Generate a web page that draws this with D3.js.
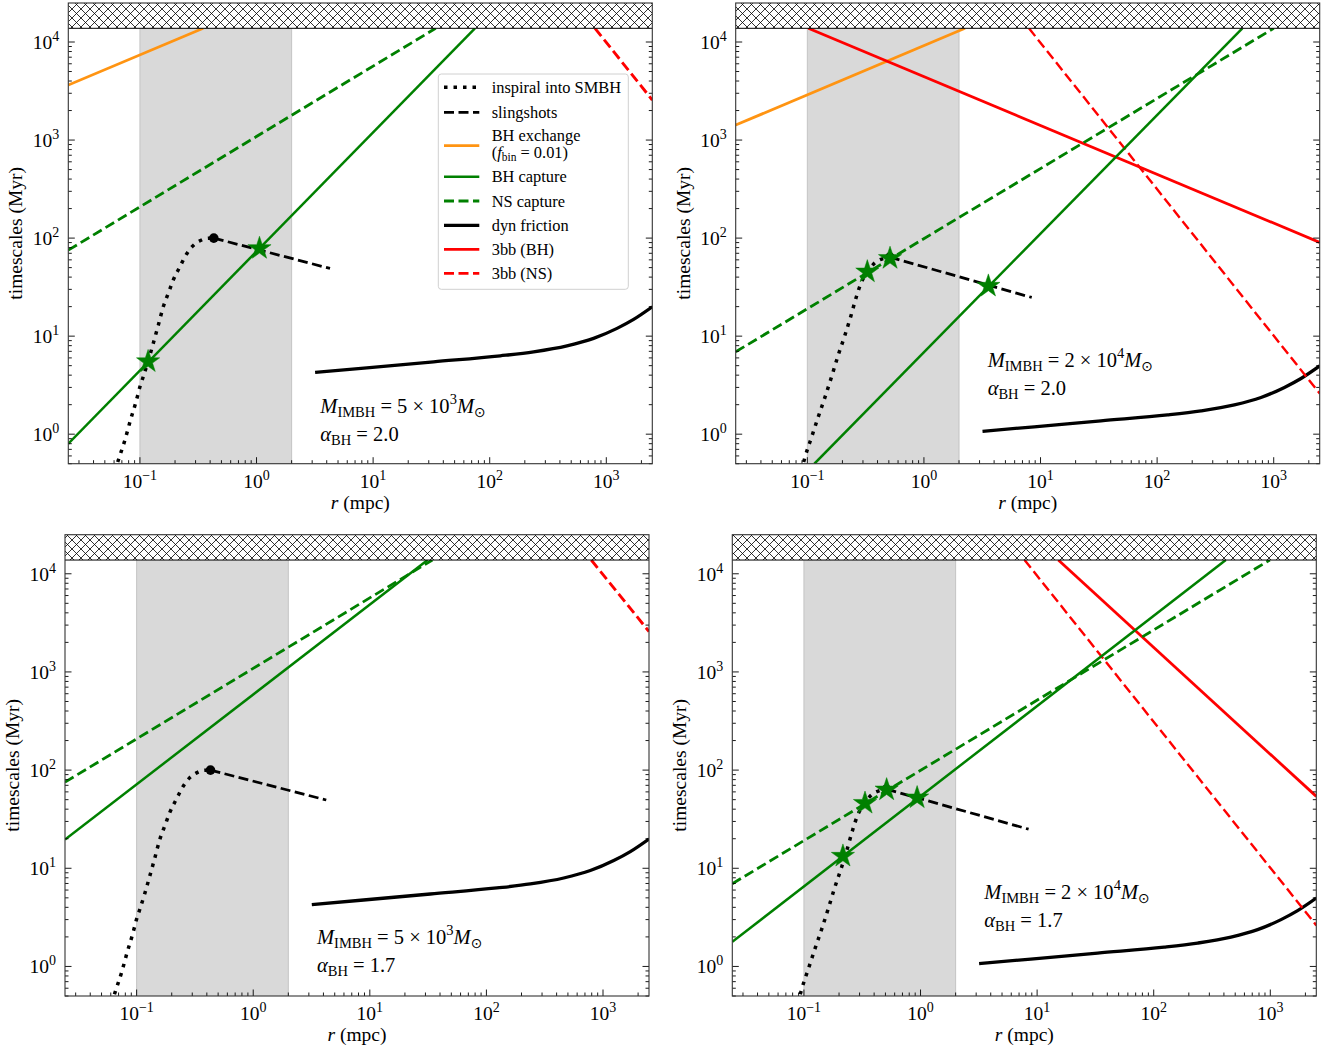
<!DOCTYPE html>
<html><head><meta charset="utf-8">
<script src="https://cdn.jsdelivr.net/npm/d3@7"></script>
<style>
body{margin:0;background:#fff}
svg{display:block}
text{font-family:"Liberation Serif","Times New Roman",serif;fill:#000}
</style>
</head><body>
<svg id="fig" width="1328" height="1050"></svg>
<script>
// ---------- shared axis data ----------
const xDomain = [0.0243, 2480];          // r (mpc)
const yDomain = [0.5, 25000];            // timescales (Myr)
const hubbleTime = 13800;                // hatched region starts here
const shadedRange = [0.1, 2];            // grey band in r
const xTickValues = [0.1, 1, 10, 100, 1000];
const xTickExps = ["\u22121", "0", "1", "2", "3"];
const yTickValues = [1, 10, 100, 1000, 10000];
const yTickExps = ["0", "1", "2", "3", "4"];

// ---------- panel 1 : M = 5e3, alpha = 2.0 ----------
const p1Inspiral = [[0.0645,0.52],[0.0664,0.578],[0.0743,0.869],[0.0832,1.41],[0.0925,2.14],[0.1,3.04],[0.1067,3.85],[0.1178,5.6],[0.13,8.43],[0.1436,12.9],[0.1585,19.9],[0.175,27.3],[0.193,37.3],[0.22,51],[0.248,67.1],[0.283,82.8],[0.327,93.8],[0.374,99.3],[0.43,100]];
const p1Peak = [[0.43, 100]];
const p1Slingshot = [[0.43,100],[4.27,49]];
const p1BHExchange = [[0.0243,3640],[0.349,13800]];
const p1BHCapture = [[0.0243,0.80],[74.7,13800]];
const p1NSCapture = [[0.0243,75.4],[34.4,13800]];
const p1DynFriction = [[3.18,4.26],[8.83,4.75],[33,5.47],[123,6.30],[238,6.92],[460,7.96],[778,9.48],[1236,12.0],[1715,14.8],[2480,19.9]];
const p13bbNS = [[800,13800],[2480,2560]];
const p1Stars = [[0.1175,5.5],[1.06,78.5]];

// ---------- panel 2 : M = 2e4, alpha = 2.0 ----------
const p2Inspiral = [[0.093,0.52],[0.0953,0.578],[0.109,0.94],[0.124,1.5],[0.142,2.4],[0.162,3.91],[0.184,6.4],[0.21,10.2],[0.235,15.7],[0.261,24.3],[0.288,34.5],[0.327,45],[0.38,56],[0.448,62],[0.51,64]];
const p2Peak = [[0.51, 64]];
const p2Slingshot = [[0.51,64],[8.41,24.8]];
const p2BHExchange = [[0.0243,1422],[2.25,13800]];
const p2BHCapture = [[0.115,0.5],[538,13800]];
const p2NSCapture = [[0.0243,6.92],[1000,13800]];
const p2DynFriction = [[3.18,1.07],[8.83,1.19],[33,1.37],[123,1.57],[238,1.73],[460,1.99],[778,2.37],[1236,3.0],[1715,3.7],[2480,4.97]];
const p23bbBH = [[0.102,13800],[2480,90.4]];
const p23bbNS = [[7.96,13800],[2480,2.6]];
const p2Stars = [[0.327,45.3],[0.512,62.1],[3.57,32.4]];

// ---------- panel 3 : M = 5e3, alpha = 1.7 ----------
const p3Inspiral = p1Inspiral;
const p3Peak = [[0.43, 100]];
const p3Slingshot = [[0.43,100],[4.23,49.6]];
const p3BHCapture = [[0.0243,19.6],[31.3,13800]];
const p3NSCapture = [[0.0243,75.4],[34.4,13800]];
const p3DynFriction = p1DynFriction;
const p33bbNS = [[793,13800],[2480,2580]];
const p3Stars = [];

// ---------- panel 4 : M = 2e4, alpha = 1.7 ----------
const p4Inspiral = p2Inspiral;
const p4Peak = [[0.51, 64]];
const p4Slingshot = [[0.51,64],[8.45,25]];
const p4BHCapture = [[0.0243,1.78],[415,13800]];
const p4NSCapture = [[0.0243,6.96],[990,13800]];
const p4DynFriction = p2DynFriction;
const p43bbBH = [[15.2,13800],[2480,54]];
const p43bbNS = [[7.8,13800],[2480,2.62]];
const p4Stars = [[0.216,13.3],[0.334,46],[0.512,63],[0.935,52.3]];

// ---------- annotation texts ----------
const massMantissa = ["5","2","5","2"];
const massExponent = ["3","4","3","4"];
const alphaValues = ["2.0","2.0","1.7","1.7"];

// ---------- legend ----------
const legendKeys = ["inspiral","slingshot","bhExchange","bhCapture","nsCapture","dynFriction","bb3BH","bb3NS"];
const legendLabels = ["inspiral into SMBH","slingshots","BH exchange","BH capture","NS capture","dyn friction","3bb (BH)","3bb (NS)"];

// ---------- styles ----------
const styles = {
  inspiral:   {stroke:"#000", w:3.5, dash:"3.5,6"},
  slingshot:  {stroke:"#000", w:2.8, dash:"10,4.5"},
  bhExchange: {stroke:"#ff9412", w:2.8, dash:null},
  bhCapture:  {stroke:"#008000", w:2.5, dash:null},
  nsCapture:  {stroke:"#008000", w:2.8, dash:"10,4.5"},
  dynFriction:{stroke:"#000", w:3.3, dash:null},
  bb3BH:      {stroke:"#ff0000", w:2.8, dash:null},
  bb3NS:      {stroke:"#ff0000", w:2.8, dash:"10,4.5"}
};

const panels = [
  {box:{l:68.3,r:652.3,t:3,b:463.7}, textDy:[-51,-23], legend:true,
   series:{dynFriction:p1DynFriction, bhExchange:p1BHExchange, nsCapture:p1NSCapture, bhCapture:p1BHCapture, bb3NS:p13bbNS, inspiral:p1Inspiral, slingshot:p1Slingshot},
   peak:p1Peak, stars:p1Stars, nsW:2.9},
  {box:{l:735.7,r:1319.7,t:3,b:463.7}, textDy:[-97,-69], legend:false,
   series:{dynFriction:p2DynFriction, bhExchange:p2BHExchange, bb3BH:p23bbBH, bb3NS:p23bbNS, nsCapture:p2NSCapture, bhCapture:p2BHCapture, inspiral:p2Inspiral, slingshot:p2Slingshot},
   peak:p2Peak, stars:p2Stars, nsW:2.4},
  {box:{l:65,r:649,t:534.7,b:996}, textDy:[-52.5,-24.5], legend:false,
   series:{dynFriction:p3DynFriction, nsCapture:p3NSCapture, bhCapture:p3BHCapture, bb3NS:p33bbNS, inspiral:p3Inspiral, slingshot:p3Slingshot},
   peak:p3Peak, stars:p3Stars, nsW:2.9},
  {box:{l:732.3,r:1316.3,t:534.7,b:996}, textDy:[-97.5,-69.5], legend:false,
   series:{dynFriction:p4DynFriction, bb3BH:p43bbBH, bb3NS:p43bbNS, nsCapture:p4NSCapture, bhCapture:p4BHCapture, inspiral:p4Inspiral, slingshot:p4Slingshot},
   peak:p4Peak, stars:p4Stars, nsW:2.4}
];

const svg = d3.select("#fig");
const defs = svg.append("defs");
const pat = defs.append("pattern").attr("id","hatch").attr("patternUnits","userSpaceOnUse")
  .attr("width",9).attr("height",9);
pat.append("rect").attr("width",9).attr("height",9).attr("fill","#fff");
pat.append("path").attr("d","M-1,-1L10,10M10,-1L-1,10").attr("stroke","#000").attr("stroke-width",0.8);

function starPath(R){
  const r = R*0.382, pts=[];
  for(let i=0;i<10;i++){
    const a = -Math.PI/2 + i*Math.PI/5, rad = i%2 ? r : R;
    pts.push([rad*Math.cos(a), rad*Math.sin(a)]);
  }
  return "M"+pts.map(p=>p[0].toFixed(2)+","+p[1].toFixed(2)).join("L")+"Z";
}

function minorTicks(domain){
  const out=[];
  for(let e=-3;e<=5;e++) for(let m=2;m<=9;m++){ const v=m*Math.pow(10,e); if(v>=domain[0]&&v<=domain[1]) out.push(v);}
  return out;
}

const TF = 19.5, SF = 14;   // tick label font / superscript font

panels.forEach((P,i)=>{
  const B=P.box;
  const x = d3.scaleLog().domain(xDomain).range([B.l,B.r]);
  const y = d3.scaleLog().domain(yDomain).range([B.b,B.t]);
  const g = svg.append("g");
  const cid = "clip"+i;
  defs.append("clipPath").attr("id",cid).append("rect")
    .attr("x",B.l).attr("y",B.t).attr("width",B.r-B.l).attr("height",B.b-B.t);
  const plot = g.append("g").attr("clip-path",`url(#${cid})`);

  // grey band
  plot.append("rect").attr("x",x(shadedRange[0])).attr("width",x(shadedRange[1])-x(shadedRange[0]))
    .attr("y",B.t).attr("height",B.b-B.t).attr("fill","#d9d9d9");
  [shadedRange[0],shadedRange[1]].forEach(v=>plot.append("line").attr("x1",x(v)).attr("x2",x(v))
    .attr("y1",B.t).attr("y2",B.b).attr("stroke","#c4c4c4").attr("stroke-width",1));

  const lineGen = d3.line().x(d=>x(d[0])).y(d=>y(d[1]));
  const curveGen = d3.line().x(d=>x(d[0])).y(d=>y(d[1])).curve(d3.curveMonotoneX);
  Object.entries(P.series).forEach(([k,data])=>{
    const s=styles[k];
    const gen = data.length>2 ? curveGen : lineGen;
    let w = s.w;
    if(k==="bb3NS") w = P.nsW;
    plot.append("path").attr("d",gen(data)).attr("fill","none")
      .attr("stroke",s.stroke).attr("stroke-width",w)
      .attr("stroke-dasharray",s.dash).attr("stroke-linecap","butt");
  });
  // peak dot
  plot.selectAll(".peak").data(P.peak).enter().append("circle")
    .attr("cx",d=>x(d[0])).attr("cy",d=>y(d[1])).attr("r",4.8).attr("fill","#000");
  // stars
  plot.selectAll(".star").data(P.stars).enter().append("path")
    .attr("d",starPath(12.2)).attr("transform",d=>`translate(${x(d[0])},${y(d[1])})`)
    .attr("fill","#008000").attr("stroke","#008000").attr("stroke-width",0.5);

  // hatched region
  plot.append("rect").attr("x",B.l).attr("width",B.r-B.l).attr("y",B.t)
    .attr("height",y(hubbleTime)-B.t).attr("fill","url(#hatch)");
  g.append("line").attr("x1",B.l).attr("x2",B.r).attr("y1",y(hubbleTime)).attr("y2",y(hubbleTime))
    .attr("stroke","#000").attr("stroke-width",1);

  // ticks
  const tk = g.append("g").attr("stroke","#000").attr("stroke-width",0.9);
  xTickValues.forEach(v=>tk.append("line").attr("x1",x(v)).attr("x2",x(v)).attr("y1",B.b).attr("y2",B.b-6.5));
  minorTicks(xDomain).forEach(v=>tk.append("line").attr("x1",x(v)).attr("x2",x(v)).attr("y1",B.b).attr("y2",B.b-3.5));
  const yMinor = minorTicks(yDomain).filter(v=>v<hubbleTime);
  yTickValues.forEach(v=>{
    tk.append("line").attr("x1",B.l).attr("x2",B.l+6.5).attr("y1",y(v)).attr("y2",y(v));
    tk.append("line").attr("x1",B.r).attr("x2",B.r-6.5).attr("y1",y(v)).attr("y2",y(v));
  });
  yMinor.forEach(v=>{
    tk.append("line").attr("x1",B.l).attr("x2",B.l+3.5).attr("y1",y(v)).attr("y2",y(v));
    tk.append("line").attr("x1",B.r).attr("x2",B.r-3.5).attr("y1",y(v)).attr("y2",y(v));
  });

  // spines
  g.append("rect").attr("x",B.l).attr("y",B.t).attr("width",B.r-B.l).attr("height",B.b-B.t)
    .attr("fill","none").attr("stroke","#333").attr("stroke-width",1.1);

  // tick labels
  xTickValues.forEach((v,j)=>{
    const t=g.append("text").attr("x",x(v)).attr("y",B.b+24).attr("text-anchor","middle").attr("font-size",TF);
    t.append("tspan").text("10");
    t.append("tspan").attr("font-size",SF).attr("dy",-8).text(xTickExps[j]);
  });
  yTickValues.forEach((v,j)=>{
    const t=g.append("text").attr("x",B.l-9).attr("y",y(v)+6.8).attr("text-anchor","end").attr("font-size",TF);
    t.append("tspan").text("10");
    t.append("tspan").attr("font-size",SF).attr("dy",-8).text(yTickExps[j]);
  });

  // axis labels
  const xl=g.append("text").attr("x",(B.l+B.r)/2).attr("y",B.b+45).attr("text-anchor","middle").attr("font-size",19.5);
  xl.append("tspan").attr("font-style","italic").text("r");
  xl.append("tspan").text(" (mpc)");
  g.append("text").attr("transform",`translate(${B.l-46},${(B.t+B.b)/2}) rotate(-90)`)
    .attr("text-anchor","middle").attr("font-size",19.5).text("timescales (Myr)");

  // annotation
  const ax = B.l+252;
  const t1=g.append("text").attr("x",ax).attr("y",B.b+P.textDy[0]).attr("font-size",20.5);
  t1.append("tspan").attr("font-style","italic").text("M");
  t1.append("tspan").attr("font-size",14.5).attr("dy",4).text("IMBH");
  t1.append("tspan").attr("dy",-4).text(" = "+massMantissa[i]+" \u00d7 10");
  t1.append("tspan").attr("font-size",14.5).attr("dy",-8.5).text(massExponent[i]);
  t1.append("tspan").attr("font-style","italic").attr("dy",8.5).text("M");
  t1.append("tspan").attr("font-size",14).attr("dy",4).attr("font-family","DejaVu Sans").text("\u2299");
  const t2=g.append("text").attr("x",ax).attr("y",B.b+P.textDy[1]).attr("font-size",20.5);
  t2.append("tspan").attr("font-style","italic").text("\u03b1");
  t2.append("tspan").attr("font-size",14.5).attr("dy",4).text("BH");
  t2.append("tspan").attr("dy",-4).text(" = "+alphaValues[i]);

  // legend
  if(P.legend){
    const L = g.append("g");
    L.append("rect").attr("x",438.3).attr("y",74).attr("width",190).attr("height",215.3)
      .attr("rx",3).attr("fill","#fff").attr("fill-opacity",0.85).attr("stroke","#d0d0d0").attr("stroke-width",1);
    const rowY = [87.3,112.3,145.7,176.7,201,225.3,249.3,273.3];
    legendKeys.forEach((k,j)=>{
      const s=styles[k];
      L.append("line").attr("x1",444).attr("x2",479.3).attr("y1",rowY[j]).attr("y2",rowY[j])
        .attr("stroke",s.stroke).attr("stroke-width",s.w).attr("stroke-dasharray",s.dash);
      if(k==="bhExchange"){
        L.append("text").attr("x",491.7).attr("y",rowY[j]-4.5).attr("font-size",16.4).text(legendLabels[j]);
        const t=L.append("text").attr("x",491.7).attr("y",rowY[j]+12.5).attr("font-size",16.4);
        t.append("tspan").text("(");
        t.append("tspan").attr("font-style","italic").text("f");
        t.append("tspan").attr("font-size",11.5).attr("dy",3).text("bin");
        t.append("tspan").attr("dy",-3).text(" = 0.01)");
      } else {
        L.append("text").attr("x",491.7).attr("y",rowY[j]+5.5).attr("font-size",16.4).text(legendLabels[j]);
      }
    });
  }
});
</script>
</body></html>
